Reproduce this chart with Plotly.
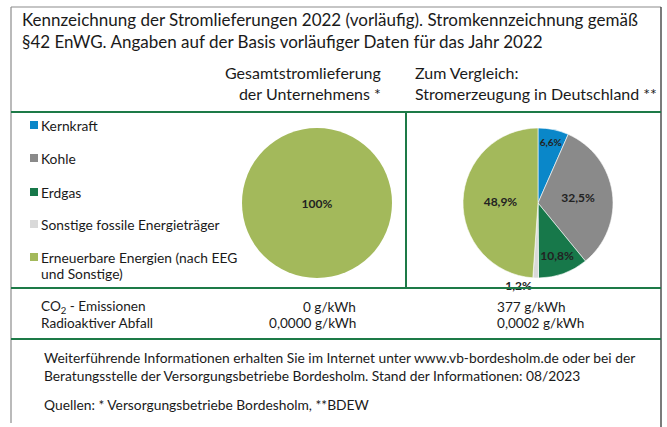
import plotly.graph_objects as go

W, H = 667, 427

categories = ["Kernkraft", "Kohle", "Erdgas", "Sonstige fossile Energieträger",
              "Erneuerbare Energien (nach EEG<br>und Sonstige)"]
colors = ["#0a87c9", "#8a8a8a", "#17784a", "#d9d9d9", "#a3b95b"]
unternehmen = [0, 0, 0, 0, 100]
deutschland = [6.6, 32.5, 10.8, 1.2, 48.9]

title_lines = ["Kennzeichnung der Stromlieferungen 2022 (vorläufig). Stromkennzeichnung gemäß",
               "§42 EnWG. Angaben auf der Basis vorläufiger Daten für das Jahr 2022"]
col1_header = "Gesamtstromlieferung<br>der Unternehmens *"
col2_header = "Zum Vergleich:<br>Stromerzeugung in Deutschland **"
emission_labels = ["CO<sub>2</sub> - Emissionen", "Radioaktiver Abfall"]
emission_unternehmen = ["0 g/kWh", "0,0000 g/kWh"]
emission_deutschland = ["377 g/kWh", "0,0002 g/kWh"]
footer_text = ("Weiterführende Informationen erhalten Sie im Internet unter www.vb-bordesholm.de oder bei der<br>"
               "Beratungsstelle der Versorgungsbetriebe Bordesholm. Stand der Informationen: 08/2023")
sources_text = "Quellen: * Versorgungsbetriebe Bordesholm, **BDEW"

FONT = "Lato"
GREEN = "#1d7a47"
TXT = "#1a1a1a"


def fx(px):
    return px / W


def fy(py):
    return 1 - py / H


def pct(v):
    if v == 0:
        return ""
    if float(v).is_integer():
        return f"{int(v)}%"
    return f"{v:.1f}".replace(".", ",") + "%"


fig = go.Figure()

fig.add_trace(go.Pie(
    labels=categories, values=unternehmen, sort=False, direction="clockwise", rotation=0,
    marker=dict(colors=colors, line=dict(width=0)),
    text=[pct(v) for v in unternehmen], textinfo="text", textposition="inside",
    insidetextorientation="horizontal",
    textfont=dict(family=FONT, size=12, color="#222222", weight="bold"),
    domain=dict(x=[fx(242), fx(392)], y=[fy(278), fy(128)]),
    showlegend=False, hoverinfo="label+percent",
))

fig.add_trace(go.Pie(
    labels=categories, values=deutschland, sort=False, direction="clockwise", rotation=0,
    marker=dict(colors=colors, line=dict(width=0.6, color="white")),
    text=[pct(v) for v in deutschland], textinfo="text",
    textposition=["inside", "inside", "inside", "outside", "inside"],
    insidetextorientation="horizontal",
    textfont=dict(family=FONT, size=12, color="#222222", weight="bold"),
    domain=dict(x=[fx(463), fx(613)], y=[fy(278), fy(128)]),
    showlegend=False, hoverinfo="label+percent",
))

shapes = []
# outer frame
shapes.append(dict(type="line", xref="paper", yref="paper", x0=fx(11), x1=fx(661), y0=fy(7), y1=fy(7),
                   line=dict(color="#8c8c8c", width=1.2)))
shapes.append(dict(type="line", xref="paper", yref="paper", x0=fx(11), x1=fx(11), y0=fy(7), y1=fy(423),
                   line=dict(color="#8c8c8c", width=1.2)))
shapes.append(dict(type="line", xref="paper", yref="paper", x0=fx(661), x1=fx(661), y0=fy(7), y1=fy(427),
                   line=dict(color="#333333", width=1.3)))
# green separators
for py in (112, 288, 339):
    shapes.append(dict(type="line", xref="paper", yref="paper", x0=fx(11), x1=fx(661), y0=fy(py), y1=fy(py),
                       line=dict(color=GREEN, width=2)))
shapes.append(dict(type="line", xref="paper", yref="paper", x0=fx(406), x1=fx(406), y0=fy(112), y1=fy(288),
                   line=dict(color=GREEN, width=2)))

annotations = []
# title
for i, t in enumerate(title_lines):
    annotations.append(dict(text=t, x=fx(20), y=fy(19 + 22 * i), xref="paper", yref="paper",
                            xanchor="left", yanchor="middle", showarrow=False,
                            font=dict(family=FONT, size=17, color=TXT)))
annotations.append(dict(text=col1_header, x=fx(383), y=fy(83), xref="paper", yref="paper",
                        xanchor="right", yanchor="middle", align="right", showarrow=False,
                        font=dict(family=FONT, size=16, color=TXT)))
annotations.append(dict(text=col2_header, x=fx(413), y=fy(83), xref="paper", yref="paper",
                        xanchor="left", yanchor="middle", align="left", showarrow=False,
                        font=dict(family=FONT, size=16, color=TXT)))

# legend
legend_y = [125, 158, 192, 224, 257]
for cat, col, ly in zip(categories, colors, legend_y):
    shapes.append(dict(type="rect", xref="paper", yref="paper", x0=fx(30), x1=fx(38),
                       y0=fy(ly + 4), y1=fy(ly - 4), fillcolor=col, line=dict(width=0)))
    for j, part in enumerate(cat.split("<br>")):
        annotations.append(dict(text=part, x=fx(40), y=fy(ly + 16 * j), xref="paper", yref="paper",
                                xanchor="left", yanchor="middle", align="left", showarrow=False,
                                borderpad=0,
                                font=dict(family=FONT, size=13.8, color=TXT)))

# emissions
for i in range(2):
    yy = fy(307 + 16 * i)
    annotations.append(dict(text=emission_labels[i], x=fx(40), y=yy, xref="paper", yref="paper",
                            xanchor="left", yanchor="middle", align="left", showarrow=False, borderpad=0,
                            font=dict(family=FONT, size=13.6, color=TXT)))
    annotations.append(dict(text=emission_unternehmen[i], x=fx(357), y=yy, xref="paper", yref="paper",
                            xanchor="right", yanchor="middle", align="right", showarrow=False, borderpad=0,
                            font=dict(family=FONT, size=13.6, color=TXT)))
    annotations.append(dict(text=emission_deutschland[i], x=fx(496), y=yy, xref="paper", yref="paper",
                            xanchor="left", yanchor="middle", align="left", showarrow=False, borderpad=0,
                            font=dict(family=FONT, size=13.6, color=TXT)))

annotations.append(dict(text=footer_text, x=fx(42), y=fy(366), xref="paper", yref="paper",
                        xanchor="left", yanchor="middle", align="left", showarrow=False,
                        font=dict(family=FONT, size=13.8, color=TXT)))
annotations.append(dict(text=sources_text, x=fx(42), y=fy(404), xref="paper", yref="paper",
                        xanchor="left", yanchor="middle", align="left", showarrow=False,
                        font=dict(family=FONT, size=13.8, color=TXT)))

fig.update_layout(
    width=W, height=H, margin=dict(l=0, r=0, t=0, b=0),
    paper_bgcolor="white", plot_bgcolor="white",
    shapes=shapes, annotations=annotations,
    font=dict(family=FONT),
)

fig.write_html("out.html", config={"displayModeBar": False},
               post_script="document.body.style.margin='0';document.body.style.overflow='hidden';")
